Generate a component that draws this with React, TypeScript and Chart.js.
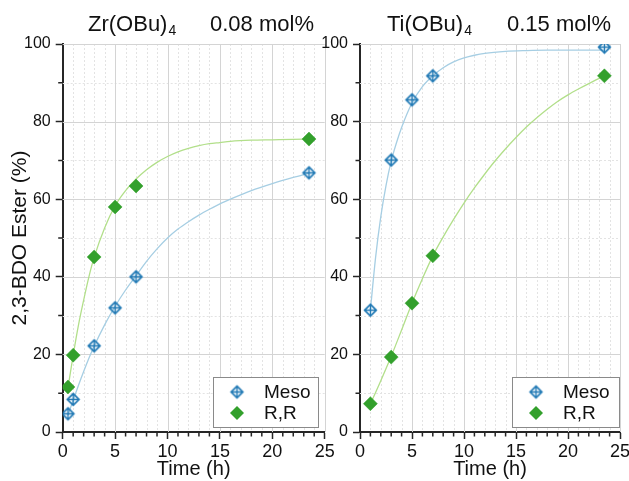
import React, { useEffect, useRef } from "react";
import { Chart, registerables } from "chart.js";
Chart.register(...registerables);

const FONT = "'Liberation Sans', Arial, Helvetica, sans-serif";
const BLUE = "#1f78b4";
const GREEN = "#33a02c";
const BLUE_FIT = "#a6cee3";
const GREEN_FIT = "#b2df8a";
const TEXT = "#111";
const AXIS = "#262626";

// ---- data: Zr(OBu)4 0.08 mol% ----
const zrTime = [0.5, 1, 3, 5, 7, 23.5];
const zrMeso = [4.7, 8.4, 22.2, 32, 40, 66.8];
const zrRR = [11.6, 19.8, 45.1, 58, 63.4, 75.5];
const zrFitTime = [0.5, 1, 1.5, 2, 2.5, 3, 4, 5, 6, 7, 8, 9, 10, 11, 12, 13, 14, 15, 16, 18, 20, 22, 23.5];
const zrMesoFit = [4.4, 8.2, 12, 15.6, 19, 22.1, 27.6, 32.4, 36.6, 40.3, 44, 47.2, 50, 52.3, 54.2, 55.9, 57.4, 58.8, 60, 62.2, 64, 65.6, 66.7];
const zrRRFit = [11.3, 19.8, 27.5, 34, 40, 45, 52.6, 58.3, 62.2, 65.2, 67.6, 69.5, 71, 72.2, 73.1, 73.8, 74.3, 74.6, 74.9, 75.2, 75.3, 75.4, 75.5];

// ---- data: Ti(OBu)4 0.15 mol% ----
const tiTime = [1, 3, 5, 7, 23.5];
const tiMeso = [31.4, 70.1, 85.6, 91.8, 99.2];
const tiRR = [7.3, 19.3, 33.2, 45.4, 91.8];
const tiMesoFitTime = [1, 1.5, 2, 2.5, 3, 3.5, 4, 5, 6, 7, 8, 9, 10, 11, 12, 14, 16, 18, 20, 23.5];
const tiMesoFit = [31.4, 45, 55.5, 63.5, 69.8, 74.5, 78.5, 84.8, 89, 91.8, 93.9, 95.4, 96.4, 97.1, 97.6, 98.1, 98.3, 98.4, 98.4, 98.4];
const tiRRFitTime = [1, 2, 3, 4, 5, 6, 7, 8, 9, 10, 11, 12, 13, 14, 15, 16, 17, 18, 19, 20, 21, 22, 23.5];
const tiRRFit = [7.2, 13.2, 19.5, 26.3, 33.2, 39.5, 45.4, 50.3, 54.8, 59, 62.9, 66.5, 69.9, 73, 75.9, 78.6, 81, 83.2, 85.2, 86.9, 88.4, 89.8, 91.8];

// ---- axes ----
const xMajorTicks = [0, 5, 10, 15, 20, 25];
const xMinorTicks = [1, 2, 3, 4, 6, 7, 8, 9, 11, 12, 13, 14, 16, 17, 18, 19, 21, 22, 23, 24];
const yMajorTicks = [0, 20, 40, 60, 80, 100];
const yMinorTicks = [10, 30, 50, 70, 90];
const legendLabels = ["Meso", "R,R"];
const xTitle = "Time (h)";
const yTitle = "2,3-BDO Ester (%)";

function pts(xs: number[], ys: number[]) {
  return xs.map((x, i) => ({ x, y: ys[i] }));
}

function makeMesoMarker(): HTMLCanvasElement {
  const c = document.createElement("canvas");
  const s = 17;
  c.width = s;
  c.height = s;
  const ctx = c.getContext("2d")!;
  const m = s / 2;
  const r = 5.8;
  ctx.strokeStyle = BLUE;
  ctx.lineWidth = 1.7;
  ctx.beginPath();
  ctx.moveTo(m, m - r);
  ctx.lineTo(m + r, m);
  ctx.lineTo(m, m + r);
  ctx.lineTo(m - r, m);
  ctx.closePath();
  ctx.stroke();
  ctx.lineWidth = 1.4;
  ctx.beginPath();
  ctx.moveTo(m - r, m);
  ctx.lineTo(m + r, m);
  ctx.moveTo(m, m - r);
  ctx.lineTo(m, m + r);
  ctx.stroke();
  return c;
}

const gridPlugin = {
  id: "customGrid",
  beforeDatasetsDraw(chart: any) {
    const { ctx, chartArea: a, scales } = chart;
    const x = scales.x;
    const y = scales.y;
    ctx.save();
    ctx.lineWidth = 1;
    ctx.strokeStyle = "#e3e3e3";
    ctx.setLineDash([2, 2]);
    ctx.beginPath();
    for (const v of xMinorTicks) {
      const px = Math.round(x.getPixelForValue(v)) + 0.5;
      ctx.moveTo(px, a.top);
      ctx.lineTo(px, a.bottom);
    }
    for (const v of yMinorTicks) {
      const py = Math.round(y.getPixelForValue(v)) + 0.5;
      ctx.moveTo(a.left, py);
      ctx.lineTo(a.right, py);
    }
    ctx.stroke();
    ctx.setLineDash([]);
    ctx.strokeStyle = "#d4d4d4";
    ctx.beginPath();
    for (const v of xMajorTicks) {
      if (v === 0) continue;
      const px = Math.round(x.getPixelForValue(v)) + 0.5;
      ctx.moveTo(px, a.top);
      ctx.lineTo(px, a.bottom);
    }
    for (const v of yMajorTicks) {
      if (v === 0) continue;
      const py = Math.round(y.getPixelForValue(v)) + 0.5;
      ctx.moveTo(a.left, py);
      ctx.lineTo(a.right, py);
    }
    ctx.stroke();
    ctx.strokeStyle = AXIS;
    ctx.lineWidth = 1.5;
    ctx.beginPath();
    for (const v of xMinorTicks) {
      const px = x.getPixelForValue(v);
      ctx.moveTo(px, a.bottom);
      ctx.lineTo(px, a.bottom + 4.5);
    }
    for (const v of yMinorTicks) {
      const py = y.getPixelForValue(v);
      ctx.moveTo(a.left, py);
      ctx.lineTo(a.left - 4.5, py);
    }
    ctx.stroke();
    ctx.restore();
  },
};

const legendPlugin = {
  id: "boxLegend",
  afterDraw(chart: any, _args: any, opts: any) {
    const { ctx } = chart;
    const { x, y, w, h, marker } = opts;
    ctx.save();
    ctx.fillStyle = "#fff";
    ctx.fillRect(x, y, w, h);
    ctx.strokeStyle = "#8a8a8a";
    ctx.lineWidth = 1;
    ctx.strokeRect(Math.round(x) + 0.5, Math.round(y) + 0.5, Math.round(w), Math.round(h));
    const mx = x + 24;
    const y1 = y + 15;
    const y2 = y + 36;
    ctx.drawImage(marker, mx - marker.width / 2, y1 - marker.height / 2);
    const r = 7;
    ctx.fillStyle = GREEN;
    ctx.beginPath();
    ctx.moveTo(mx, y2 - r);
    ctx.lineTo(mx + r, y2);
    ctx.lineTo(mx, y2 + r);
    ctx.lineTo(mx - r, y2);
    ctx.closePath();
    ctx.fill();
    ctx.fillStyle = TEXT;
    ctx.font = `19px ${FONT}`;
    ctx.textBaseline = "middle";
    ctx.textAlign = "left";
    ctx.fillText(legendLabels[0], x + 51, y1 + 1);
    ctx.fillText(legendLabels[1], x + 51, y2 + 1);
    ctx.restore();
  },
};

function buildConfig(opts: {
  mesoT: number[];
  meso: number[];
  rrT: number[];
  rr: number[];
  mesoFitT: number[];
  mesoFit: number[];
  rrFitT: number[];
  rrFit: number[];
  marker: HTMLCanvasElement;
  yAxisWidth: number;
  padRight: number;
  showYTitle: boolean;
  legendBox: { x: number; y: number; w: number; h: number };
}): any {
  const xTickFont = { family: FONT, size: 18 };
  const yTickFont = { family: FONT, size: 16 };
  return {
    type: "scatter",
    data: {
      datasets: [
        {
          label: "meso fit",
          data: pts(opts.mesoFitT, opts.mesoFit),
          showLine: true,
          borderColor: BLUE_FIT,
          borderWidth: 1.3,
          pointRadius: 0,
          cubicInterpolationMode: "monotone",
          order: 2,
        },
        {
          label: "rr fit",
          data: pts(opts.rrFitT, opts.rrFit),
          showLine: true,
          borderColor: GREEN_FIT,
          borderWidth: 1.3,
          pointRadius: 0,
          cubicInterpolationMode: "monotone",
          order: 2,
        },
        {
          label: legendLabels[0],
          data: pts(opts.mesoT, opts.meso),
          showLine: false,
          pointStyle: opts.marker,
          pointRadius: 7,
          order: 0,
        },
        {
          label: legendLabels[1],
          data: pts(opts.rrT, opts.rr),
          showLine: false,
          pointStyle: "rectRot",
          pointRadius: 7,
          backgroundColor: GREEN,
          borderColor: GREEN,
          borderWidth: 0.5,
          order: 1,
        },
      ],
    },
    options: {
      animation: false,
      responsive: false,
      devicePixelRatio: 1,
      events: [],
      layout: { padding: { top: 44, right: opts.padRight, bottom: 0, left: 0 } },
      plugins: {
        legend: { display: false },
        tooltip: { enabled: false },
        title: { display: false },
        boxLegend: { ...opts.legendBox, marker: opts.marker },
      },
      scales: {
        x: {
          type: "linear",
          min: 0,
          max: 25,
          ticks: { stepSize: 5, font: xTickFont, color: TEXT, padding: 2, maxRotation: 0, autoSkip: false },
          grid: { drawOnChartArea: false, drawTicks: true, tickLength: 7, tickWidth: 1.5, tickColor: AXIS },
          border: { display: true, color: AXIS, width: 2 },
          title: { display: true, text: xTitle, font: { family: FONT, size: 20 }, color: TEXT, padding: { top: 0, bottom: 0 } },
          afterFit: (s: any) => {
            s.height = 49;
            s.paddingLeft = 0;
            s.paddingRight = 0;
          },
        },
        y: {
          type: "linear",
          min: 0,
          max: 100,
          ticks: { stepSize: 20, font: yTickFont, color: TEXT, padding: 5 },
          grid: { drawOnChartArea: false, drawTicks: true, tickLength: 7, tickWidth: 1.5, tickColor: AXIS },
          border: { display: true, color: AXIS, width: 2 },
          title: { display: opts.showYTitle, text: yTitle, font: { family: FONT, size: 21 }, color: TEXT, padding: { top: 8, bottom: 0 } },
          afterFit: (s: any) => {
            s.width = opts.yAxisWidth;
            s.paddingTop = 0;
            s.paddingBottom = 0;
          },
        },
      },
    },
    plugins: [gridPlugin, legendPlugin],
  };
}

const titleStyle: React.CSSProperties = {
  position: "absolute",
  fontFamily: FONT,
  fontSize: 22,
  lineHeight: "22px",
  color: TEXT,
  whiteSpace: "nowrap",
  top: 13,
};
const subStyle: React.CSSProperties = {
  fontSize: 14,
  position: "relative",
  top: 4,
  marginLeft: 1,
};

export default function App() {
  const leftRef = useRef<HTMLCanvasElement>(null);
  const rightRef = useRef<HTMLCanvasElement>(null);

  useEffect(() => {
    const marker = makeMesoMarker();
    const left = new Chart(
      leftRef.current!,
      buildConfig({
        mesoT: zrTime,
        meso: zrMeso,
        rrT: zrTime,
        rr: zrRR,
        mesoFitT: zrFitTime,
        mesoFit: zrMesoFit,
        rrFitT: zrFitTime,
        rrFit: zrRRFit,
        marker,
        yAxisWidth: 62.7,
        padRight: 20.3,
        showYTitle: true,
        legendBox: { x: 213, y: 377, w: 105, h: 50 },
      })
    );
    const right = new Chart(
      rightRef.current!,
      buildConfig({
        mesoT: tiTime,
        meso: tiMeso,
        rrT: tiTime,
        rr: tiRR,
        mesoFitT: tiMesoFitTime,
        mesoFit: tiMesoFit,
        rrFitT: tiRRFitTime,
        rrFit: tiRRFit,
        marker,
        yAxisWidth: 60,
        padRight: 9,
        showYTitle: false,
        legendBox: { x: 212, y: 377, w: 107, h: 50 },
      })
    );
    return () => {
      left.destroy();
      right.destroy();
    };
  }, []);

  return (
    <div style={{ position: "absolute", left: 0, top: 0, width: 629, height: 481, background: "#fff", overflow: "hidden" }}>
      <canvas ref={leftRef} width={345} height={481} style={{ position: "absolute", left: 0, top: 0, width: 345, height: 481 }} />
      <canvas ref={rightRef} width={329} height={481} style={{ position: "absolute", left: 300, top: 0, width: 329, height: 481 }} />
      <div style={{ ...titleStyle, left: 88 }}>
        Zr(OBu)<span style={subStyle}>4</span>
      </div>
      <div style={{ ...titleStyle, left: 210 }}>0.08 mol%</div>
      <div style={{ ...titleStyle, left: 387 }}>
        Ti(OBu)<span style={subStyle}>4</span>
      </div>
      <div style={{ ...titleStyle, left: 507 }}>0.15 mol%</div>
    </div>
  );
}
